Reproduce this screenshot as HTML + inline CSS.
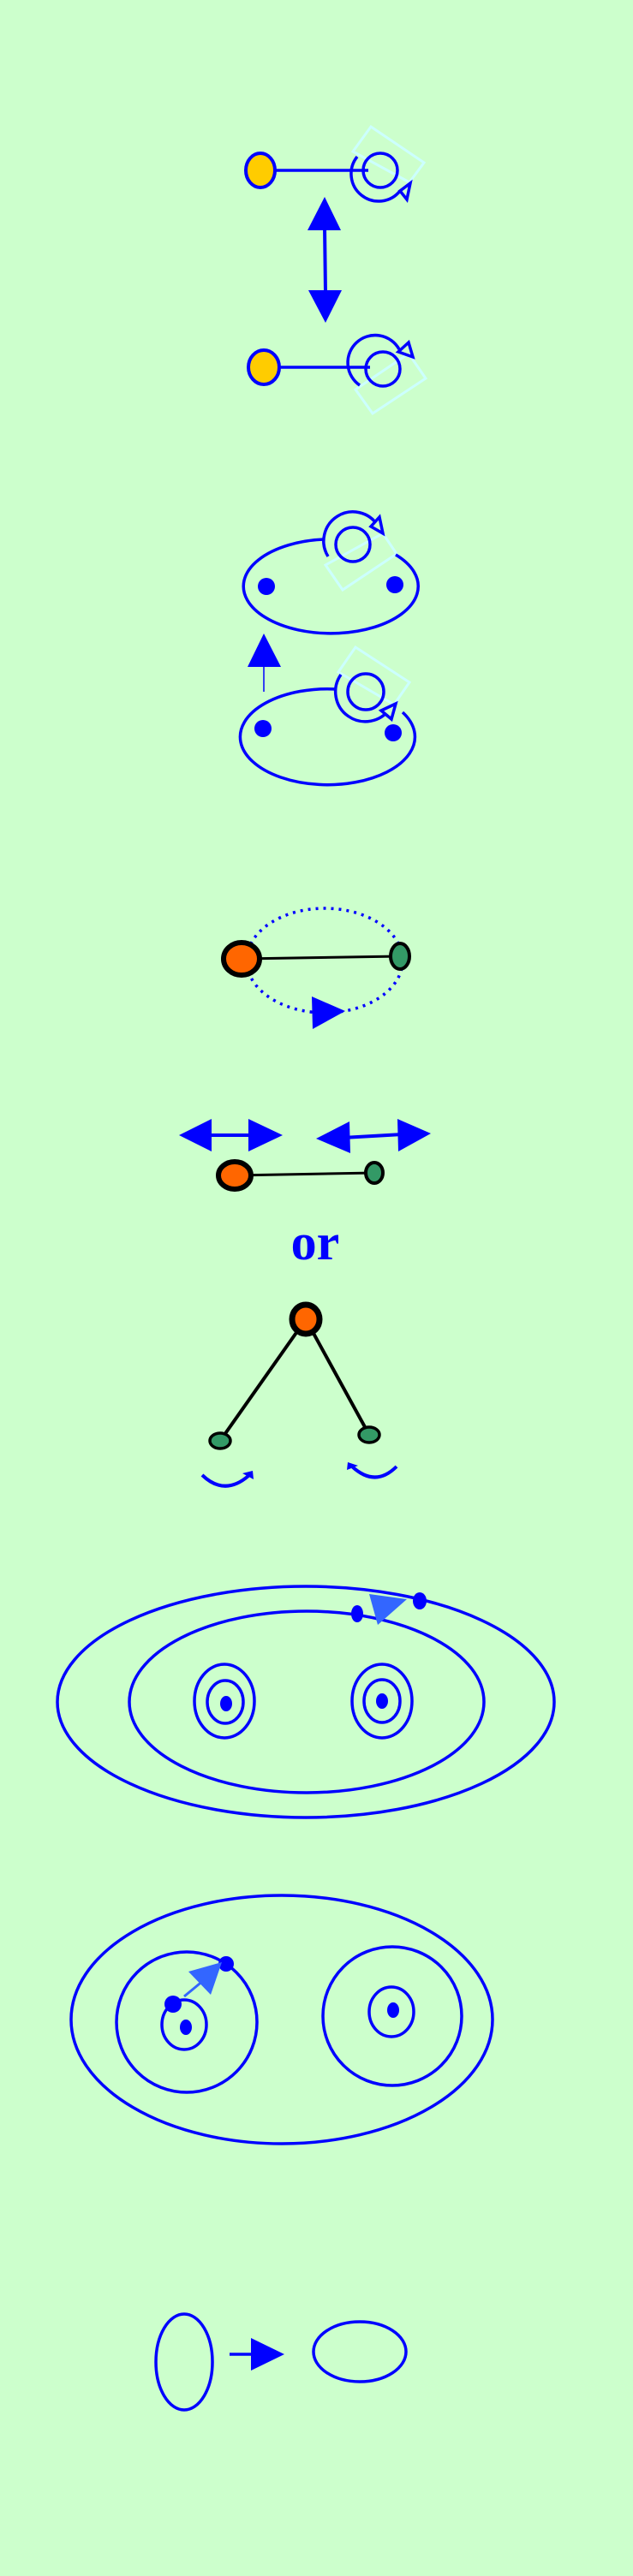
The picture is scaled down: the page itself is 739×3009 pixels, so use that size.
<!DOCTYPE html>
<html><head><meta charset="utf-8"><style>
html,body{margin:0;padding:0;background:#ccffcc;}
svg{display:block;}
</style></head><body>
<svg width="739" height="3009" viewBox="0 0 739 3009" xmlns="http://www.w3.org/2000/svg">
<rect width="739" height="3009" fill="#ccffcc"/>
<g fill="none" stroke="#0000ff" stroke-width="3.5">
<polygon points="433,148 495,190 478,213 412,177" stroke="#ccffff" stroke-width="3"/>
<ellipse cx="304" cy="199" rx="17" ry="20" fill="#ffcc00" stroke-width="4"/>
<line x1="322" y1="199" x2="430" y2="199"/>
<circle cx="444" cy="199" r="20"/>
<path d="M417,183 A32,32 0 1 0 467,223"/>
<polygon points="467,223 479,214 475,233" fill="#ccffcc"/>
<line x1="379" y1="265" x2="380" y2="342" stroke-width="4"/>
<polygon points="379,230 398,269 359,269" fill="#0000ff" stroke="none"/>
<polygon points="360,339 399,339 380,377" fill="#0000ff" stroke="none"/>
<polygon points="415,455 435,483 497,442 477,413" stroke="#ccffff" stroke-width="3"/>
<ellipse cx="308" cy="429" rx="18" ry="20" fill="#ffcc00" stroke-width="4"/>
<line x1="326" y1="429" x2="432" y2="429"/>
<circle cx="447" cy="431" r="20"/>
<path d="M420,450 A32,32 0 1 1 466,408"/>
<polygon points="465,411 477,400 482,417" fill="#ccffcc"/>
<polygon points="380,660 400,689 463,647 447,623" stroke="#ccffff" stroke-width="3"/>
<path d="M462,648 A102,55 0 1 1 378,630"/>
<circle cx="311" cy="685" r="10" fill="#0000ff" stroke="none"/>
<circle cx="461" cy="683" r="10" fill="#0000ff" stroke="none"/>
<circle cx="412" cy="636" r="20"/>
<path d="M383,650 A32,32 0 1 1 441,614"/>
<polygon points="433,615 443,604 447,623" fill="#ccffcc"/>
<line x1="308" y1="770" x2="308" y2="808" stroke-width="1.5"/>
<polygon points="308,740 328,779 289,779" fill="#0000ff" stroke="none"/>
<polygon points="395,785 415,756 478,797 460,823" stroke="#ccffff" stroke-width="3"/>
<path d="M470,832 A102,56 0 1 1 393,805"/>
<circle cx="307" cy="851" r="10" fill="#0000ff" stroke="none"/>
<circle cx="459" cy="856" r="10" fill="#0000ff" stroke="none"/>
<circle cx="427" cy="808" r="21"/>
<path d="M398,788 A34,34 0 1 0 455,828"/>
<polygon points="445,830 462,822 457,840" fill="#ccffcc"/>
</g>
<ellipse cx="379" cy="1122" rx="91" ry="61" fill="none" stroke="#0000ff" stroke-width="3.5" stroke-dasharray="3,6"/>
<line x1="282" y1="1120" x2="467" y2="1117" stroke="#000" stroke-width="3"/>
<ellipse cx="282" cy="1120" rx="21" ry="19" fill="#ff6600" stroke="#000" stroke-width="6"/>
<ellipse cx="467" cy="1117" rx="11" ry="15" fill="#339966" stroke="#000" stroke-width="4"/>
<polygon points="364,1164 365,1202 403,1181" fill="#0000ff"/>
<line x1="240" y1="1326" x2="295" y2="1326" stroke="#0000ff" stroke-width="4"/>
<polygon points="209,1326 247,1307 247,1345" fill="#0000ff"/>
<polygon points="330,1326 290,1307 290,1345" fill="#0000ff"/>
<line x1="400" y1="1329" x2="470" y2="1325" stroke="#0000ff" stroke-width="4"/>
<polygon points="369,1330 408,1310 409,1347" fill="#0000ff"/>
<polygon points="503,1324 464,1307 465,1345" fill="#0000ff"/>
<line x1="274" y1="1373" x2="437" y2="1370" stroke="#000" stroke-width="3"/>
<ellipse cx="274" cy="1373" rx="19" ry="16" fill="#ff6600" stroke="#000" stroke-width="6"/>
<ellipse cx="437" cy="1370" rx="10" ry="12" fill="#339966" stroke="#000" stroke-width="4"/>
<text x="368" y="1471" text-anchor="middle" font-family="Liberation Serif, serif" font-weight="bold" font-size="60" fill="#0000ff">or</text>
<line x1="357" y1="1541" x2="257" y2="1683" stroke="#000" stroke-width="4"/>
<line x1="357" y1="1541" x2="431" y2="1676" stroke="#000" stroke-width="4"/>
<ellipse cx="357" cy="1541" rx="16" ry="17" fill="#ff6600" stroke="#000" stroke-width="7"/>
<ellipse cx="257" cy="1683" rx="12" ry="9" fill="#339966" stroke="#000" stroke-width="3.5"/>
<ellipse cx="431" cy="1676" rx="12" ry="9" fill="#339966" stroke="#000" stroke-width="3.5"/>
<path d="M236,1723 Q262,1748 290,1724" fill="none" stroke="#0000ff" stroke-width="4"/>
<polygon points="283,1721 295,1718 296,1728" fill="#0000ff"/>
<path d="M463,1713 Q438,1738 411,1713" fill="none" stroke="#0000ff" stroke-width="4"/>
<polygon points="405,1717 406,1708 418,1712" fill="#0000ff"/>
<g fill="none" stroke="#0000ff" stroke-width="3.5">
<ellipse cx="357" cy="1988" rx="290" ry="135"/>
<ellipse cx="358" cy="1988" rx="207" ry="106"/>
<ellipse cx="262" cy="1987" rx="35" ry="43"/>
<ellipse cx="263" cy="1988" rx="21" ry="25"/>
<ellipse cx="446" cy="1987" rx="35" ry="43"/>
<ellipse cx="446" cy="1987" rx="21" ry="25"/>
</g>
<ellipse cx="264" cy="1990" rx="7" ry="9" fill="#0000ff"/>
<ellipse cx="446" cy="1987" rx="7" ry="9" fill="#0000ff"/>
<ellipse cx="417" cy="1885" rx="7" ry="10" fill="#0000ff"/>
<ellipse cx="490" cy="1870" rx="8" ry="10" fill="#0000ff"/>
<polygon points="431,1862 475,1868 441,1898" fill="#3366ff"/>
<g fill="none" stroke="#0000ff" stroke-width="3.5">
<ellipse cx="329" cy="2359" rx="246" ry="145"/>
<ellipse cx="218" cy="2362" rx="82" ry="82"/>
<ellipse cx="215" cy="2365" rx="26" ry="29"/>
<ellipse cx="458" cy="2355" rx="81" ry="81"/>
<ellipse cx="457" cy="2350" rx="26" ry="29"/>
</g>
<ellipse cx="217" cy="2368" rx="7" ry="9" fill="#0000ff"/>
<ellipse cx="459" cy="2348" rx="7" ry="9" fill="#0000ff"/>
<circle cx="202" cy="2341" r="10" fill="#0000ff"/>
<circle cx="264" cy="2294" r="9" fill="#0000ff"/>
<line x1="215" y1="2332" x2="238" y2="2313" stroke="#3366ff" stroke-width="3"/>
<polygon points="220,2303 259,2292 246,2330" fill="#3366ff"/>
<ellipse cx="215" cy="2759" rx="33" ry="56" fill="none" stroke="#0000ff" stroke-width="3.5"/>
<line x1="268" y1="2750" x2="295" y2="2750" stroke="#0000ff" stroke-width="3.5"/>
<polygon points="293,2731 293,2769 332,2750" fill="#0000ff"/>
<ellipse cx="420" cy="2747" rx="54" ry="35" fill="none" stroke="#0000ff" stroke-width="3.5"/>
</svg>
</body></html>
